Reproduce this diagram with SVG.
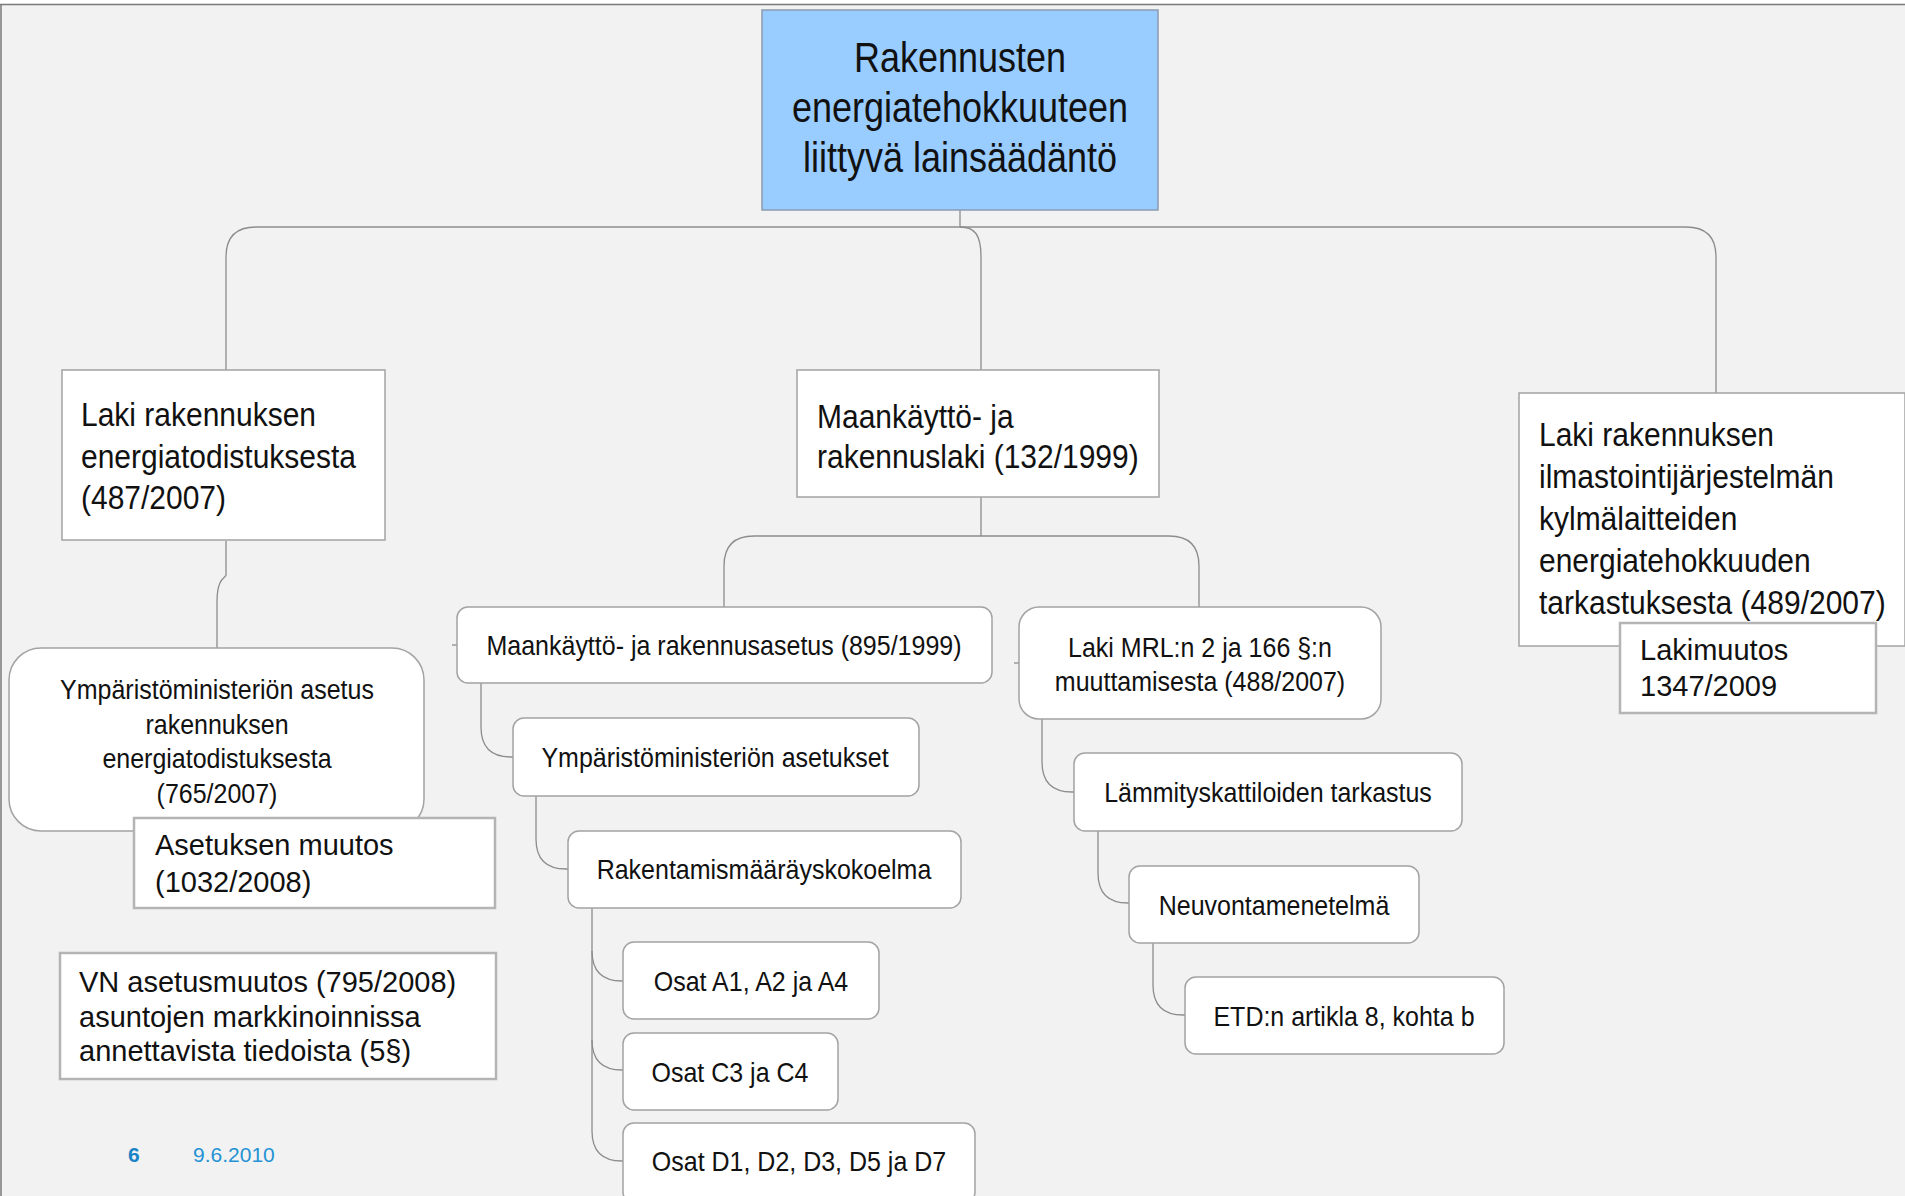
<svg xmlns="http://www.w3.org/2000/svg" width="1905" height="1196" viewBox="0 0 1905 1196">
<style>
  .bg { fill: #f2f2f2; }
  .box { fill: #ffffff; stroke: #a3a3a3; stroke-width: 1.5; }
  .note { fill: #ffffff; stroke: #b4b4b4; stroke-width: 2.5; }
  .root { fill: #99ccff; stroke: #8a9bb0; stroke-width: 1.5; }
  .conn { fill: none; stroke: #8c8c8c; stroke-width: 1.3; }
  text { font-family: "Liberation Sans", Arial, sans-serif; fill: #111111; }
  .f36 { font-size: 36px; }
  .f30 { font-size: 30px; }
  .f29 { font-size: 29px; }
  .f25 { font-size: 25px; }
  .mid { text-anchor: middle; }
  .foot { font-size: 21px; fill: #2492d4; }
</style>
<rect class="bg" x="0" y="0" width="1905" height="1196"/>
<rect x="0" y="0" width="1905" height="4" fill="#ffffff"/>
<line x1="0" y1="4.5" x2="1905" y2="4.5" stroke="#7a7a7a" stroke-width="1.5"/>
<line x1="1" y1="4" x2="1" y2="1196" stroke="#7a7a7a" stroke-width="1.5"/>

<g id="connectors">
  <path class="conn" d="M960,210 V227"/>
  <path class="conn" d="M256,227 H1686"/>
  <path class="conn" d="M256,227 Q226,227 226,257 V370"/>
  <path class="conn" d="M960,227 C975,227 981,235 981,257 V370"/>
  <path class="conn" d="M1686,227 Q1716,227 1716,257 V393"/>
  <path class="conn" d="M226,541 V575 C226,578 217,577 217,602 V648"/>
  <path class="conn" d="M981,497 V536"/>
  <path class="conn" d="M754,536 H1169"/>
  <path class="conn" d="M754,536 Q724,536 724,566 V607"/>
  <path class="conn" d="M1169,536 Q1199,536 1199,566 V607"/>
  <path class="conn" d="M452,645 H457"/>
  <path class="conn" d="M1014,663 H1019"/>
  <path class="conn" d="M481,683 V727 Q481,757 511,757 H513"/>
  <path class="conn" d="M536,796 V839 Q536,869 566,869 H568"/>
  <path class="conn" d="M592,907 V1131 Q592,1161 622,1161 H623"/>
  <path class="conn" d="M592,951 Q592,981 622,981 H623"/>
  <path class="conn" d="M592,1040 Q592,1070 622,1070 H623"/>
  <path class="conn" d="M1042,719 V762 Q1042,792 1072,792 H1074"/>
  <path class="conn" d="M1098,831 V873 Q1098,903 1128,903 H1129"/>
  <path class="conn" d="M1153,943 V985 Q1153,1015 1183,1015 H1185"/>
</g>

<g id="root">
  <rect class="root" x="762" y="10" width="396" height="200"/>
  <text class="f36 mid" transform="matrix(1 0 0 1.18 960 72)">Rakennusten</text>
  <text class="f36 mid" transform="matrix(1 0 0 1.18 960 122)">energiatehokkuuteen</text>
  <text class="f36 mid" transform="matrix(1 0 0 1.18 960 172)">liittyvä lainsäädäntö</text>
</g>

<g id="laki-energiatodistus">
  <rect class="box" x="62" y="370" width="323" height="170"/>
  <text class="f30" transform="matrix(1 0 0 1.1 81 426)">Laki rakennuksen</text>
  <text class="f30" transform="matrix(1 0 0 1.1 81 467.5)">energiatodistuksesta</text>
  <text class="f30" transform="matrix(1 0 0 1.1 81 509)">(487/2007)</text>
</g>

<g id="ym-asetus">
  <rect class="box" x="9" y="648" width="415" height="183" rx="32"/>
  <text class="f25 mid" transform="matrix(1 0 0 1.1 217 699)">Ympäristöministeriön asetus</text>
  <text class="f25 mid" transform="matrix(1 0 0 1.1 217 734)">rakennuksen</text>
  <text class="f25 mid" transform="matrix(1 0 0 1.1 217 768)">energiatodistuksesta</text>
  <text class="f25 mid" transform="matrix(1 0 0 1.1 217 803)">(765/2007)</text>
</g>

<g id="asetuksen-muutos">
  <rect class="note" x="134" y="818" width="361" height="90"/>
  <text class="f29" x="155" y="855">Asetuksen muutos</text>
  <text class="f29" x="155" y="891.5">(1032/2008)</text>
</g>

<g id="vn-asetusmuutos">
  <rect class="note" x="60" y="953" width="436" height="126"/>
  <text class="f29" x="79" y="992">VN asetusmuutos (795/2008)</text>
  <text class="f29" x="79" y="1027">asuntojen markkinoinnissa</text>
  <text class="f29" x="79" y="1061">annettavista tiedoista (5§)</text>
</g>

<g id="mrl">
  <rect class="box" x="797" y="370" width="362" height="127"/>
  <text class="f30" transform="matrix(1 0 0 1.1 817 428)">Maankäyttö- ja</text>
  <text class="f30" transform="matrix(1 0 0 1.1 817 468)">rakennuslaki (132/1999)</text>
</g>

<g id="mra">
  <rect class="box" x="457" y="607" width="535" height="76" rx="11"/>
  <text class="f25 mid" transform="matrix(1 0 0 1.1 724 655)">Maankäyttö- ja rakennusasetus (895/1999)</text>
</g>

<g id="ym-asetukset">
  <rect class="box" x="513" y="718" width="406" height="78" rx="11"/>
  <text class="f25 mid" transform="matrix(1 0 0 1.1 715 767)">Ympäristöministeriön asetukset</text>
</g>

<g id="rakmk">
  <rect class="box" x="568" y="831" width="393" height="77" rx="11"/>
  <text class="f25 mid" transform="matrix(1 0 0 1.1 764 879)">Rakentamismääräyskokoelma</text>
</g>

<g id="osat-a">
  <rect class="box" x="623" y="942" width="256" height="77" rx="11"/>
  <text class="f25 mid" transform="matrix(1 0 0 1.1 751 991)">Osat A1, A2 ja A4</text>
</g>

<g id="osat-c">
  <rect class="box" x="623" y="1033" width="215" height="77" rx="11"/>
  <text class="f25 mid" transform="matrix(1 0 0 1.1 730 1081.5)">Osat C3 ja C4</text>
</g>

<g id="osat-d">
  <rect class="box" x="623" y="1123" width="352" height="80" rx="11"/>
  <text class="f25 mid" transform="matrix(1 0 0 1.1 799 1171)">Osat D1, D2, D3, D5 ja D7</text>
</g>

<g id="laki-mrl-muutos">
  <rect class="box" x="1019" y="607" width="362" height="112" rx="20"/>
  <text class="f25 mid" transform="matrix(1 0 0 1.1 1200 657)">Laki MRL:n 2 ja 166 §:n</text>
  <text class="f25 mid" transform="matrix(1 0 0 1.1 1200 691)">muuttamisesta (488/2007)</text>
</g>

<g id="lammityskattilat">
  <rect class="box" x="1074" y="753" width="388" height="78" rx="11"/>
  <text class="f25 mid" transform="matrix(1 0 0 1.1 1268 802)">Lämmityskattiloiden tarkastus</text>
</g>

<g id="neuvonta">
  <rect class="box" x="1129" y="866" width="290" height="77" rx="11"/>
  <text class="f25 mid" transform="matrix(1 0 0 1.1 1274 914.5)">Neuvontamenetelmä</text>
</g>

<g id="etd">
  <rect class="box" x="1185" y="977" width="319" height="77" rx="11"/>
  <text class="f25 mid" transform="matrix(1 0 0 1.1 1344 1025.5)">ETD:n artikla 8, kohta b</text>
</g>

<g id="laki-ilmastointi">
  <rect class="box" x="1519" y="393" width="386" height="253"/>
  <text class="f30" transform="matrix(1 0 0 1.1 1539 446)">Laki rakennuksen</text>
  <text class="f30" transform="matrix(1 0 0 1.1 1539 488)">ilmastointijärjestelmän</text>
  <text class="f30" transform="matrix(1 0 0 1.1 1539 530)">kylmälaitteiden</text>
  <text class="f30" transform="matrix(1 0 0 1.1 1539 572)">energiatehokkuuden</text>
  <text class="f30" transform="matrix(1 0 0 1.1 1539 614)">tarkastuksesta (489/2007)</text>
</g>

<g id="lakimuutos">
  <rect class="note" x="1620" y="623" width="256" height="90"/>
  <text class="f29" x="1640" y="660">Lakimuutos</text>
  <text class="f29" x="1640" y="696">1347/2009</text>
</g>

<g id="footer">
  <text class="foot" x="128" y="1162" font-weight="bold" style="fill:#1a84c6">6</text>
  <text class="foot" x="193" y="1162">9.6.2010</text>
</g>
</svg>
